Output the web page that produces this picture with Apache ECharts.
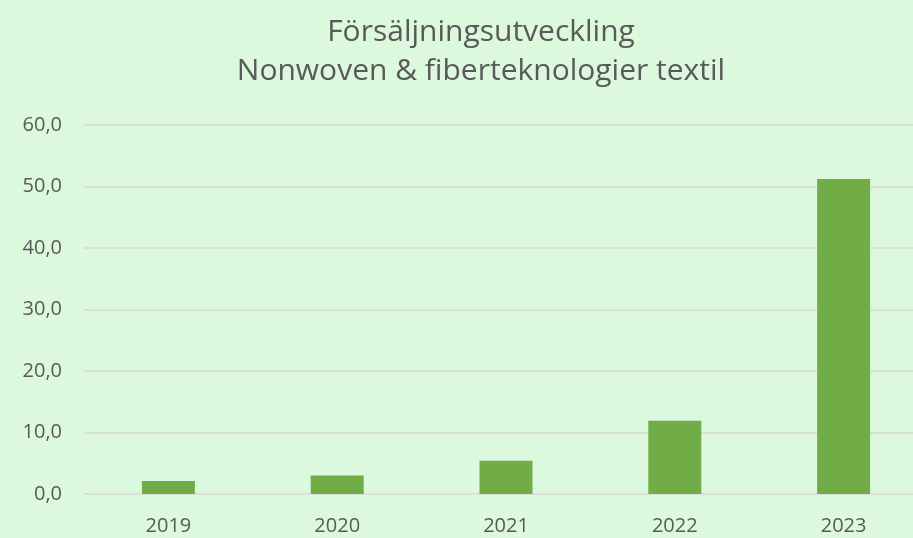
<!DOCTYPE html>
<html>
<head>
<meta charset="utf-8">
<script src="https://cdn.jsdelivr.net/npm/echarts@6/dist/echarts.min.js"></script>
<style>
  html, body { margin: 0; padding: 0; background: #ddf9dd; }
  #chart { width: 913px; height: 538px; }
</style>
</head>
<body>
<div id="chart"></div>
<script>
// data
var years = ['2019', '2020', '2021', '2022', '2023'];
var sales = [2.1, 3.0, 5.4, 11.9, 51.2];
var titleLines = ['Försäljningsutveckling', 'Nonwoven & fiberteknologier textil'];

var chart = echarts.init(document.getElementById('chart'));
var txt = '#595959';

chart.setOption({
    backgroundColor: '#ddf9dd',
    title: {
        text: titleLines.join('\n'),
        left: 476,
        top: 8,
        textAlign: 'center',
        textStyle: {
            fontFamily: 'Open Sans',
            fontSize: 30,
            fontWeight: 'normal',
            color: txt,
            lineHeight: 39
        }
    },
    // the plot runs past the right edge in the original, so let it overflow
    grid: { left: 84, width: 844, top: 125, height: 369, outerBoundsMode: 'none' },
    xAxis: {
        type: 'category',
        data: years,
        axisLine: { show: false },
        axisTick: { show: false },
        axisLabel: { color: txt, fontSize: 20, fontFamily: 'Open Sans', margin: 22 }
    },
    yAxis: {
        type: 'value',
        min: 0,
        max: 60,
        interval: 10,
        axisLabel: {
            color: txt, fontSize: 20, fontFamily: 'Open Sans', margin: 22,
            formatter: function (v) { return v.toFixed(1).replace('.', ','); }
        },
        splitLine: { lineStyle: { color: '#d9d9d9', width: 1.5 } }
    },
    series: [{
        type: 'bar',
        data: sales,
        barWidth: 53,
        itemStyle: { color: '#70ad47' }
    }]
});
</script>
</body>
</html>
